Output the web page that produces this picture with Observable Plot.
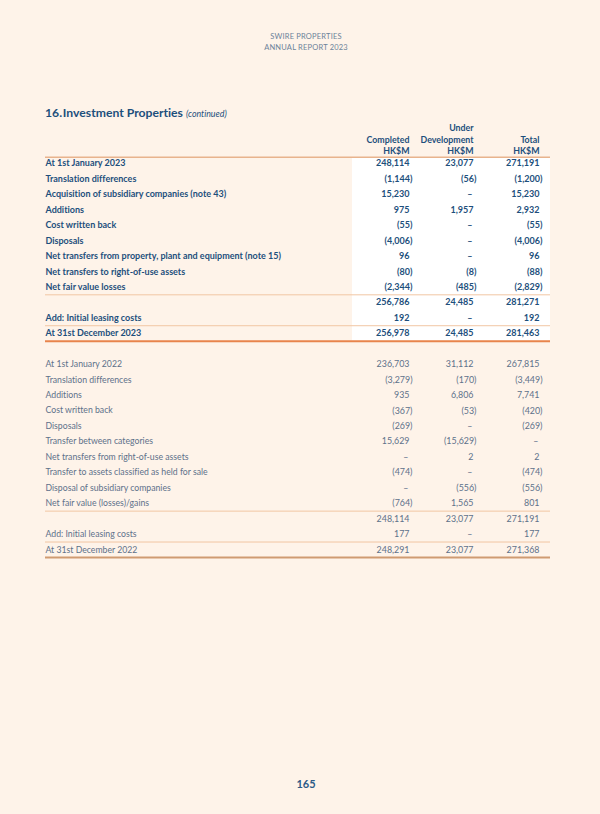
<!DOCTYPE html>
<html><head><meta charset="utf-8">
<script src="https://cdn.jsdelivr.net/npm/d3@7"></script>
<script src="https://cdn.jsdelivr.net/npm/@observablehq/plot@0.6"></script>
<style>
html,body{margin:0;padding:0;background:#fef3e9;width:600px;height:814px;overflow:hidden;font-family:Lato,"Noto Sans",sans-serif;font-variant-ligatures:none;}
svg text{font-variant-ligatures:none;}
#hdr{position:absolute;top:31px;left:0;width:612px;text-align:center;font-size:7.5px;line-height:11px;color:#6c8299;letter-spacing:0.2px}
#title{position:absolute;top:105px;left:45px;font-size:12.2px;font-weight:bold;color:#1d4f7c;white-space:nowrap}
#title i{font-size:8.8px;font-weight:normal;}
#chart{position:absolute;top:118px;left:0}
#page{position:absolute;top:777px;left:0;width:612px;text-align:center;font-size:11px;font-weight:bold;color:#2b5a87}
</style></head>
<body>
<div id="hdr">SWIRE PROPERTIES<br>ANNUAL REPORT 2023</div>
<div id="title">16.&#8202;Investment Properties <i>(continued)</i></div>
<div id="chart"></div>
<div id="page">165</div>
<script>
// ---- data ----
const columns = ["Completed", "Under Development", "Total"];
const headerLines = [["Completed", "HK$M"], ["Under", "Development", "HK$M"], ["Total", "HK$M"]];

const labels2023 = [
  "At 1st January 2023",
  "Translation differences",
  "Acquisition of subsidiary companies (note 43)",
  "Additions",
  "Cost written back",
  "Disposals",
  "Net transfers from property, plant and equipment (note 15)",
  "Net transfers to right-of-use assets",
  "Net fair value losses",
  "",
  "Add: Initial leasing costs",
  "At 31st December 2023"
];
const completed2023 = [248114, -1144, 15230, 975, -55, -4006, 96, -80, -2344, 256786, 192, 256978];
const underDev2023 = [23077, -56, 0, 1957, 0, 0, 0, -8, -485, 24485, 0, 24485];
const total2023 = [271191, -1200, 15230, 2932, -55, -4006, 96, -88, -2829, 281271, 192, 281463];

const labels2022 = [
  "At 1st January 2022",
  "Translation differences",
  "Additions",
  "Cost written back",
  "Disposals",
  "Transfer between categories",
  "Net transfers from right-of-use assets",
  "Transfer to assets classified as held for sale",
  "Disposal of subsidiary companies",
  "Net fair value (losses)/gains",
  "",
  "Add: Initial leasing costs",
  "At 31st December 2022"
];
const completed2022 = [236703, -3279, 935, -367, -269, 15629, 0, -474, 0, -764, 248114, 177, 248291];
const underDev2022 = [31112, -170, 6806, -53, 0, -15629, 2, 0, -556, 1565, 23077, 0, 23077];
const total2022 = [267815, -3449, 7741, -420, -269, 0, 2, -474, -556, 801, 271191, 177, 271368];

// ---- layout ----
const labelX = 45;
const colRight = [409, 473, 539];
const tableRight = 550;
const start2022 = 13;
const rowStep = 15.45;
const fontFamily = "Lato, 'Noto Sans', sans-serif";
const boldBlue = "#1d4f7c";
const greyBlue = "#5d7189";

const rows = [];
labels2023.forEach((l, i) => rows.push({row: i, label: l, vals: [completed2023[i], underDev2023[i], total2023[i]], bold: true}));
labels2022.forEach((l, i) => rows.push({row: start2022 + i, label: l, vals: [completed2022[i], underDev2022[i], total2022[i]], bold: false}));

const cells = [];
rows.forEach(r => r.vals.forEach((v, j) => cells.push({row: r.row, col: j, v, bold: r.bold})));

const fmt = d3.format(",");
const txt = v => v === 0 ? "\u2013" : v < 0 ? `(${fmt(-v)})` : fmt(v);
const cellX = d => colRight[d.col] + (d.v < 0 ? 3 : d.v === 0 ? -1 : 0);

const headerCells = [];
headerLines.forEach((lines, j) => lines.forEach((t, k) => headerCells.push({col: j, text: t, level: lines.length - 1 - k})));

const thin = [{y: 8.5}, {y: 10.5}, {y: start2022 + 9.5}, {y: start2022 + 11.5}];

const n2023 = labels2023.length;
const n2022 = labels2022.length;

const chart = Plot.plot({
  width: 600,
  height: 460,
  margin: 0,
  x: {domain: [0, 600], range: [0, 600], axis: null},
  y: {domain: [0, 25], range: [45, 45 + 25 * rowStep], axis: null},
  style: {background: "transparent", fontFamily, overflow: "visible"},
  marks: [
    Plot.rect([0], {x1: 352, x2: tableRight, y1: -0.38, y2: n2023 - 0.5, fill: "#ffffff"}),
    Plot.ruleY([-0.4], {x1: labelX, x2: tableRight, stroke: "#e8b38d", strokeWidth: 1.5}),
    Plot.ruleY(thin, {y: "y", x1: labelX, x2: tableRight, stroke: "#f1c6a3", strokeWidth: 1}),
    Plot.ruleY([n2023 - 0.5], {x1: labelX, x2: tableRight, stroke: "#e8844c", strokeWidth: 2}),
    Plot.ruleY([start2022 + n2022 - 0.5], {x1: labelX, x2: tableRight, stroke: "#cf9b72", strokeWidth: 2}),
    Plot.text(headerCells, {x: d => colRight[d.col], y: d => -0.78 - d.level * 0.74, text: "text", textAnchor: "end", fontSize: 8.8, fontWeight: "bold", fill: boldBlue}),
    Plot.text(rows.filter(r => r.bold), {x: labelX, y: "row", text: "label", textAnchor: "start", fontSize: 9, fontWeight: "bold", fill: boldBlue}),
    Plot.text(rows.filter(r => !r.bold), {x: labelX, y: "row", text: "label", textAnchor: "start", fontSize: 8.7, fill: greyBlue}),
    Plot.text(cells.filter(c => c.bold), {x: cellX, y: "row", text: d => txt(d.v), textAnchor: "end", fontSize: 9, fontWeight: "bold", fill: boldBlue}),
    Plot.text(cells.filter(c => !c.bold), {x: cellX, y: "row", text: d => txt(d.v), textAnchor: "end", fontSize: 8.9, fill: greyBlue})
  ]
});
document.getElementById("chart").append(chart);
</script>
</body></html>
